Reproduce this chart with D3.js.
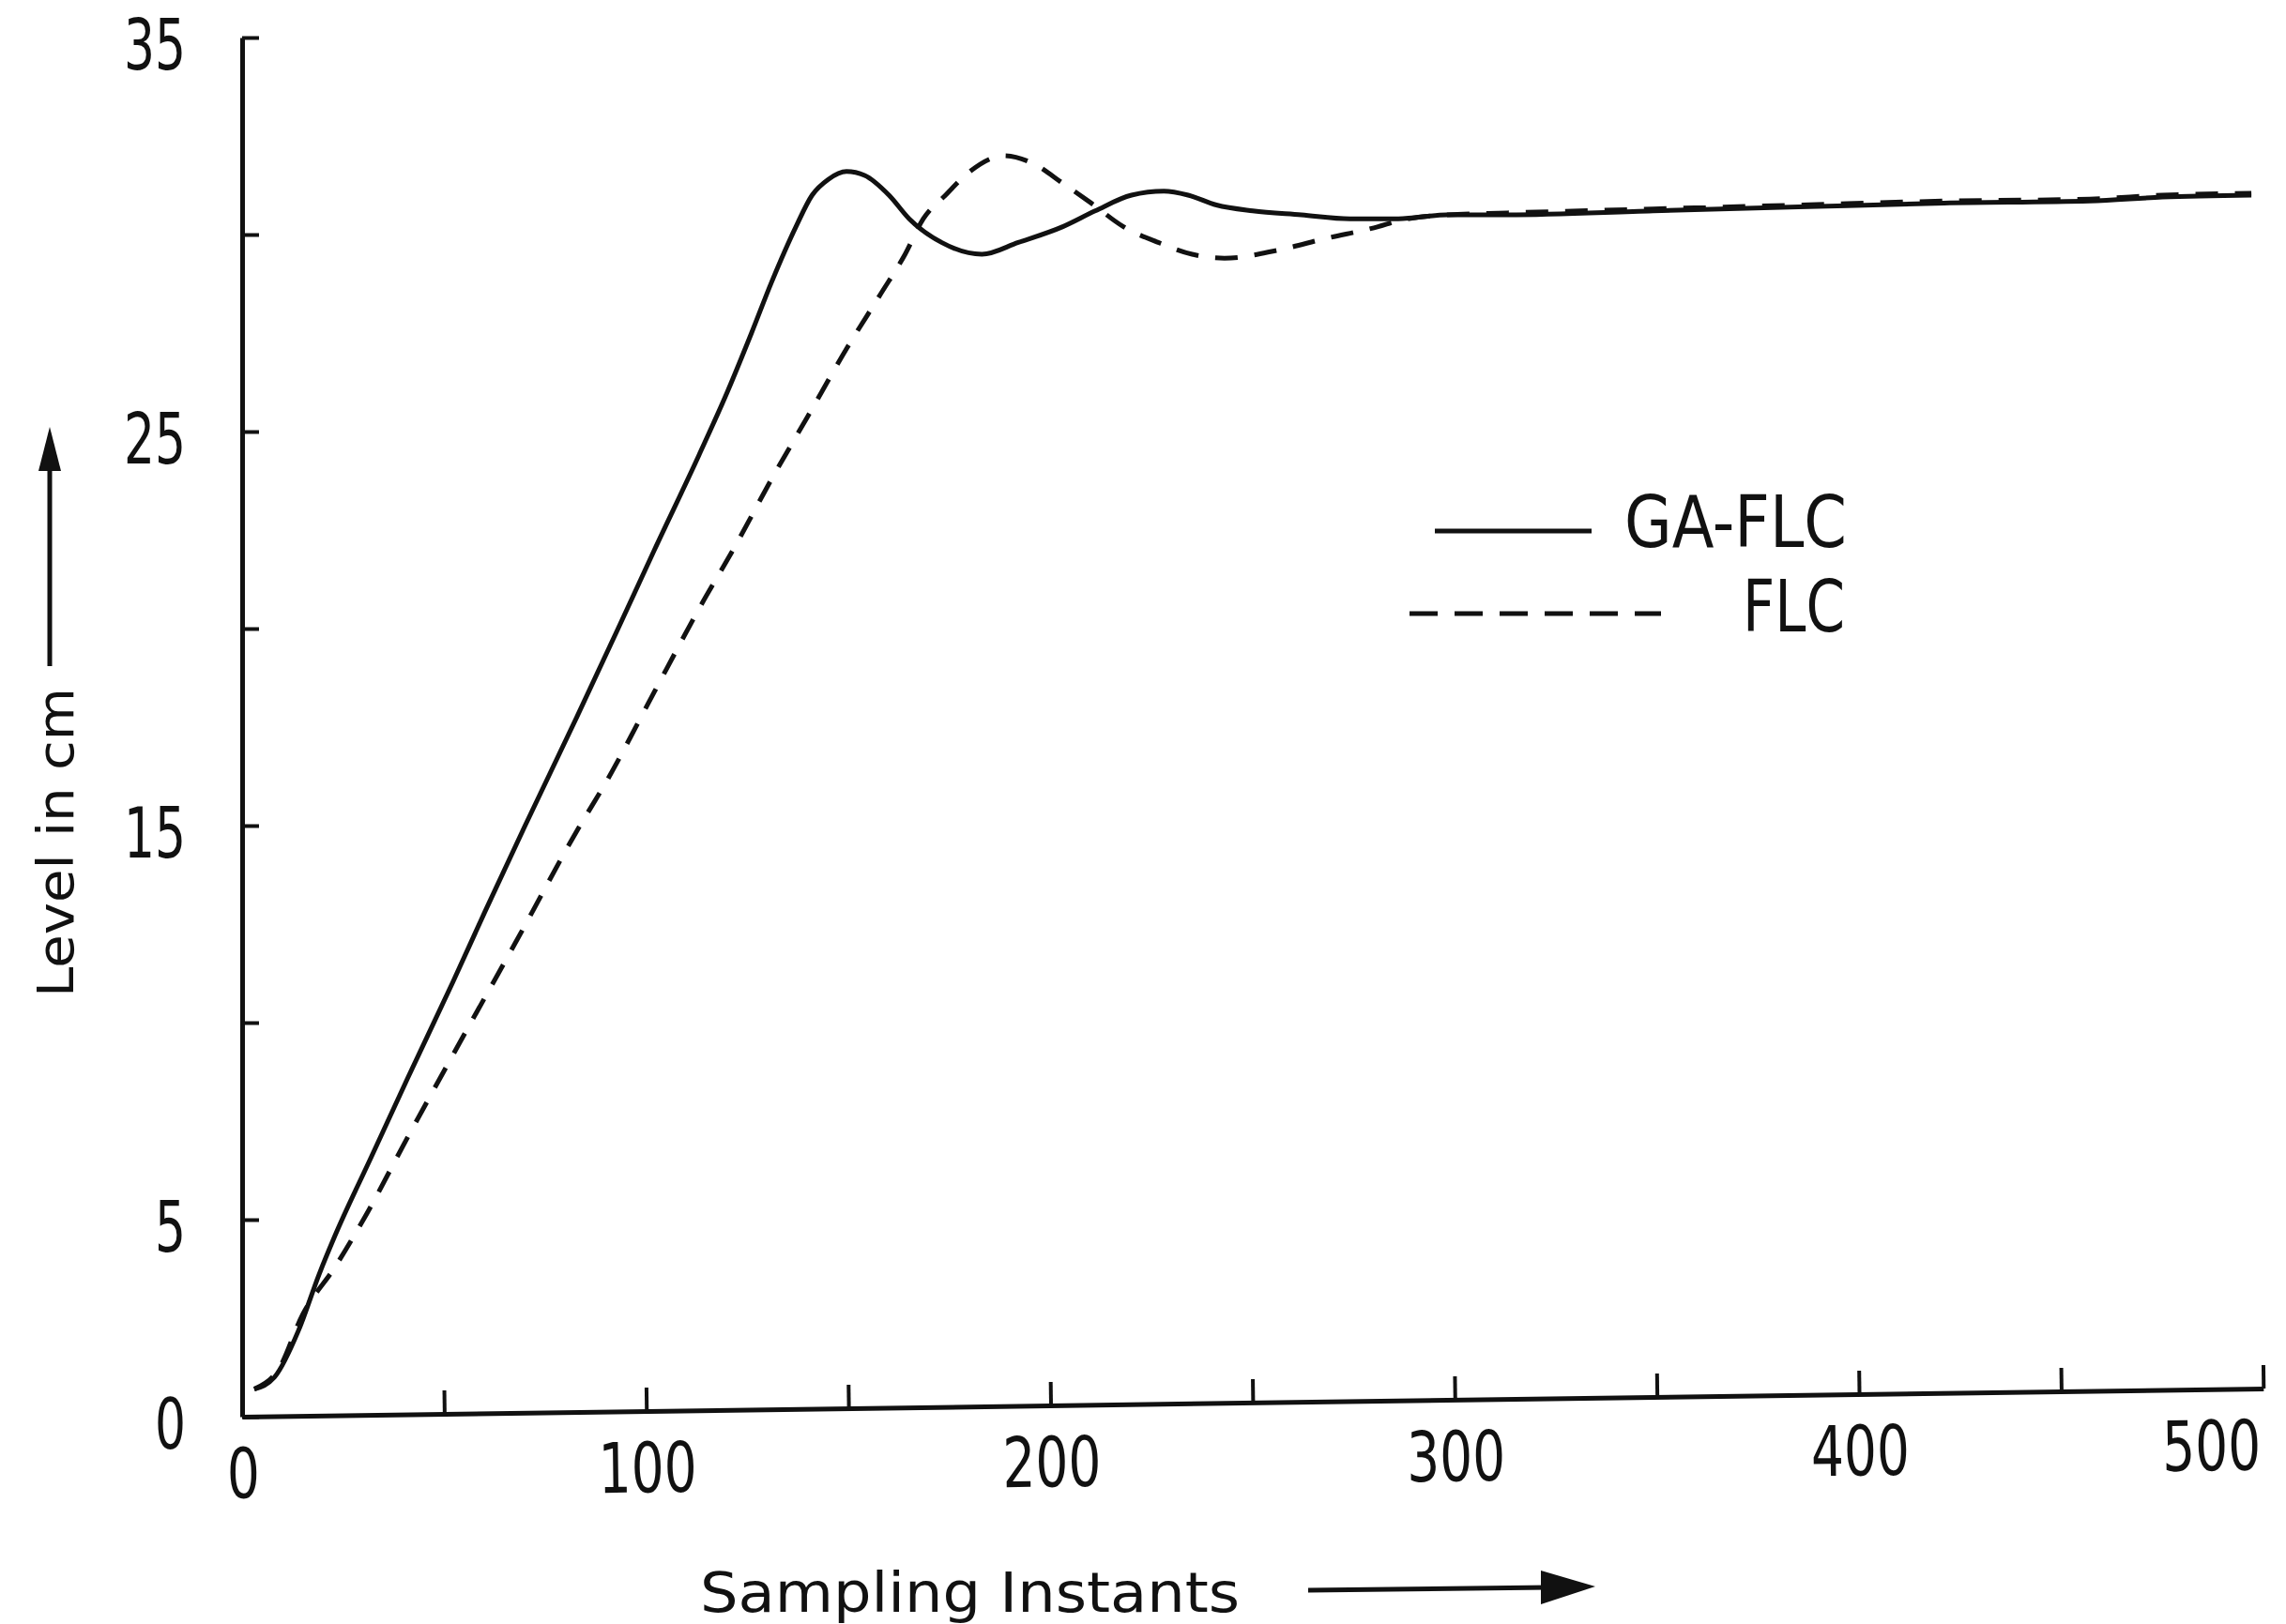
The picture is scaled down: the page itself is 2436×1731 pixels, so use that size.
<!DOCTYPE html>
<html lang="en">
<head>
<meta charset="UTF-8">
<title>Level response: GA-FLC vs FLC</title>
<script src="https://d3js.org/d3.v7.min.js"></script>
<style>
    body { margin: 0; background: #fff; }
    svg { display: block; }
    text { fill: #111; }
    .num { font-family: "Liberation Sans Narrow", "DejaVu Sans Condensed", "Liberation Sans", sans-serif; }
    .lab { font-family: "DejaVu Sans", "Liberation Sans", sans-serif; }
</style>
</head>
<body>
<div id="chart"></div>
<script>

    // [sampling instant, level in cm]
    var gaFlc = [[3, 0.7], [8, 1.0], [14, 2.2], [19, 3.6], [23, 4.6], [32, 6.6], [41, 8.6], [52, 11.0],
        [60, 12.8], [70, 15.0], [83, 17.8], [93, 20.0], [102, 22.0], [113, 24.4], [120, 26.0],
        [126, 27.5], [131, 28.8], [137, 30.2], [141, 31.0], [145, 31.4], [149.5, 31.6], [154, 31.5],
        [160, 31.0], [165, 30.4], [173, 29.8], [183, 29.5], [192, 29.8], [203, 30.2], [211, 30.6],
        [220, 31.0], [228, 31.1], [234, 31.0], [241, 30.75], [250, 30.6], [262, 30.5], [274, 30.4],
        [286, 30.4], [298, 30.5], [313, 30.5], [349, 30.6], [385, 30.7], [421, 30.8], [457, 30.85],
        [475, 30.95], [497, 31.0]];

    var flc = [[3, 0.7], [9, 1.2], [15, 2.6], [23, 3.8], [30, 5.0], [41, 7.1], [55.5, 9.8], [68, 12.1],
        [83, 14.9], [90, 16.1], [102, 18.4], [113, 20.5], [122, 22.1], [131, 23.8], [140, 25.4],
        [149.5, 27.1], [158, 28.5], [164, 29.5], [168.5, 30.4], [174, 31.0], [180, 31.6], [188.5, 32.0],
        [195.7, 31.8], [203, 31.3], [210, 30.8], [218, 30.2], [226.6, 29.8], [235, 29.5], [243, 29.4],
        [256, 29.6], [268, 29.9], [281, 30.2], [286, 30.35], [298, 30.5], [313, 30.55], [349, 30.65],
        [385, 30.75], [421, 30.85], [457, 30.9], [475, 31.0], [497, 31.05]];

    var xTicks = [0, 50, 100, 150, 200, 250, 300, 350, 400, 450, 500];
    var xLabels = [0, 100, 200, 300, 400, 500];
    var yTicks = [0, 5, 10, 15, 20, 25, 30, 35];
    var yLabels = [0, 5, 15, 25, 35];

    var seriesNames = ["GA-FLC", "FLC"];

    var width = 2436, height = 1731;

    var svg = d3.select("#chart")
        .append("svg")
        .attr("width", width)
        .attr("height", height);

    var x = d3.scaleLinear().domain([0, 500]).range([258, 2412]);
    var y = d3.scaleLinear().domain([0, 35]).range([1510, 40]);

    // Y axis, ticks pointing inwards
    var yAxis = svg.append("g")
        .attr("class", "num")
        .attr("transform", "translate(" + x(0) + ",0)")
        .call(d3.axisLeft(y)
            .tickValues(yTicks)
            .tickSizeInner(-18)
            .tickSizeOuter(0)
            .tickPadding(60)
            .tickFormat(function (d) { return yLabels.indexOf(d) >= 0 ? d : ""; }));

    // X axis, the scanned original is slightly skewed
    var xAxis = svg.append("g")
        .attr("class", "num")
        .attr("transform", "rotate(-0.8," + x(0) + "," + y(0) + ") translate(0," + y(0) + ")")
        .call(d3.axisBottom(x)
            .tickValues(xTicks)
            .tickSizeInner(-25)
            .tickSizeOuter(0)
            .tickPadding(34)
            .tickFormat(function (d) { return xLabels.indexOf(d) >= 0 ? d : ""; }));

    [yAxis, xAxis].forEach(function (g) {
        g.attr("font-size", null).attr("font-family", null);
        g.select(".domain").attr("stroke", "#111").attr("stroke-width", 5);
        g.selectAll(".tick line").attr("stroke", "#111").attr("stroke-width", 4);
    });

    // narrow, tall digits like the original lettering
    yAxis.selectAll(".tick text")
        .style("font-size", "74px")
        .attr("fill", "#111")
        .attr("dy", "0.45em")
        .each(function (d) {
            var n = String(d).length;
            if (yLabels.indexOf(d) >= 0) d3.select(this).attr("textLength", 33 * n).attr("lengthAdjust", "spacingAndGlyphs");
        });

    xAxis.selectAll(".tick text")
        .style("font-size", "74px")
        .attr("fill", "#111")
        .each(function (d) {
            var n = String(d).length;
            var t = d3.select(this);
            if (xLabels.indexOf(d) >= 0) t.attr("textLength", 35 * n).attr("lengthAdjust", "spacingAndGlyphs");
            if (d === 500) t.attr("text-anchor", "end").attr("x", -4);
        });

    var line = d3.line()
        .x(function (d) { return x(d[0]); })
        .y(function (d) { return y(d[1]); })
        .curve(d3.curveMonotoneX);

    svg.append("path")
        .datum(flc)
        .attr("fill", "none")
        .attr("stroke", "#111")
        .attr("stroke-width", 5)
        .attr("stroke-dasharray", "24,18")
        .attr("d", line);

    svg.append("path")
        .datum(gaFlc)
        .attr("fill", "none")
        .attr("stroke", "#111")
        .attr("stroke-width", 5)
        .attr("d", line);

    // legend
    var legend = svg.append("g");
    legend.append("line")
        .attr("x1", 1529).attr("x2", 1696).attr("y1", 566).attr("y2", 566)
        .attr("stroke", "#111").attr("stroke-width", 5);
    legend.append("text")
        .attr("class", "num")
        .attr("x", 1731).attr("y", 583)
        .style("font-size", "77px")
        .attr("textLength", 237).attr("lengthAdjust", "spacingAndGlyphs")
        .text(seriesNames[0]);
    legend.append("line")
        .attr("x1", 1502).attr("x2", 1770).attr("y1", 654).attr("y2", 654)
        .attr("stroke", "#111").attr("stroke-width", 5)
        .attr("stroke-dasharray", "30,18");
    legend.append("text")
        .attr("class", "num")
        .attr("x", 1966).attr("y", 673)
        .attr("text-anchor", "end")
        .style("font-size", "77px")
        .attr("textLength", 109).attr("lengthAdjust", "spacingAndGlyphs")
        .text(seriesNames[1]);

    // y axis title with arrow
    svg.append("text")
        .attr("class", "lab")
        .attr("transform", "translate(78,898) rotate(-90)")
        .attr("text-anchor", "middle")
        .style("font-size", "53px")
        .attr("textLength", 330).attr("lengthAdjust", "spacingAndGlyphs")
        .text("Level in cm");
    svg.append("line")
        .attr("x1", 53).attr("x2", 53).attr("y1", 710).attr("y2", 495)
        .attr("stroke", "#111").attr("stroke-width", 5);
    svg.append("path")
        .attr("d", "M53,455L41,502L65,502Z")
        .attr("fill", "#111");

    // x axis title with arrow
    svg.append("text")
        .attr("class", "lab")
        .attr("x", 746).attr("y", 1718)
        .style("font-size", "59px")
        .attr("textLength", 575).attr("lengthAdjust", "spacingAndGlyphs")
        .text("Sampling Instants");
    svg.append("line")
        .attr("x1", 1394).attr("x2", 1650).attr("y1", 1695).attr("y2", 1692)
        .attr("stroke", "#111").attr("stroke-width", 5);
    svg.append("path")
        .attr("d", "M1700,1691L1642,1674L1642,1710Z")
        .attr("fill", "#111");

</script>
</body>
</html>
